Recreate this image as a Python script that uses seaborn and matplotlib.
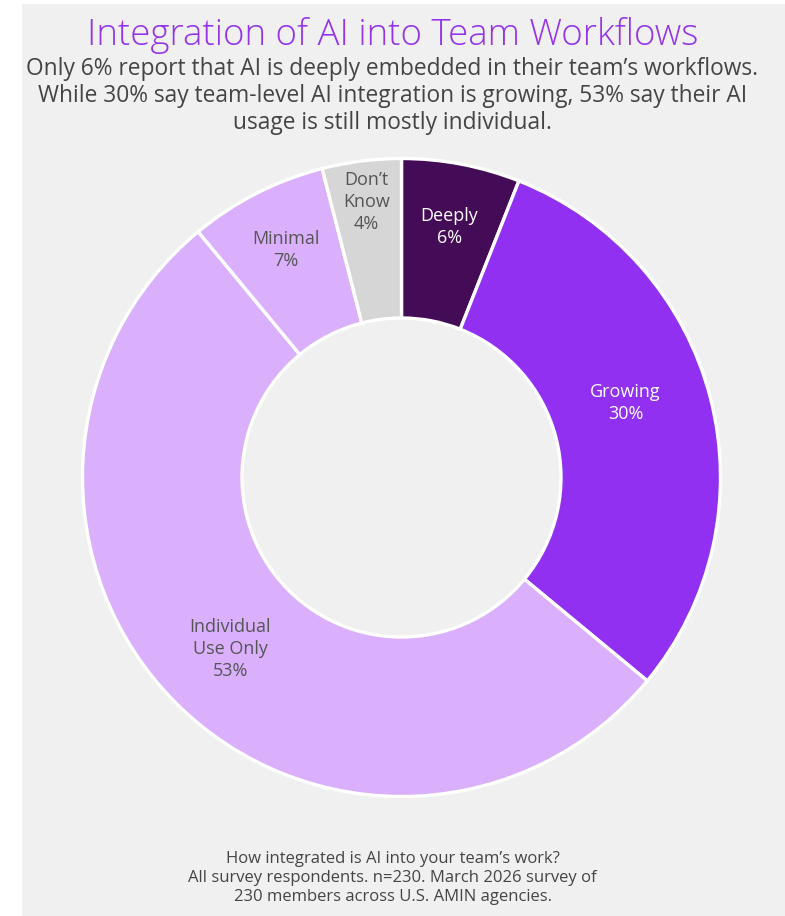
import matplotlib
matplotlib.use("Agg")
import matplotlib.pyplot as plt
import seaborn as sns
import numpy as np

# Survey responses, clockwise from 12 o'clock
categories = ["Deeply", "Growing", "Individual\nUse Only", "Minimal", "Don\u2019t\nKnow"]
shares = [6, 30, 53, 7, 4]
colors = ["#440c56", "#9130f0", "#dab0fd", "#dab0fd", "#d6d6d6"]
label_colors = ["#ffffff", "#ffffff", "#555555", "#555555", "#555555"]
label_radius = [0.80, 0.74, 0.76, 0.80, 0.87]
label_turn = [0.0, 4.0, 0.0, 0.0, 0.0]   # degrees, counter-clockwise nudge

title = "Integration of AI into Team Workflows"
subtitle = ("Only 6% report that AI is deeply embedded in their team\u2019s workflows.\n"
            "While 30% say team-level AI integration is growing, 53% say their AI\n"
            "usage is still mostly individual.")
footer = ("How integrated is AI into your team\u2019s work?\n"
          "All survey respondents. n=230. March 2026 survey of\n"
          "230 members across U.S. AMIN agencies.")

sns.set_theme(style="white")
plt.rcParams["font.family"] = ["Open Sans", "DejaVu Sans"]

W, H = 785, 916
fig = plt.figure(figsize=(W / 100, H / 100), dpi=100)
fig.patch.set_facecolor("white")

# light grey panel behind everything
panel = plt.Rectangle((22 / W, 0), 1 - 22 / W, 1 - 4 / H, transform=fig.transFigure,
                      facecolor="#f0f0f0", edgecolor="none", zorder=-10)
fig.patches.append(panel)

cx, cy, r = 401.5, 477.5, 319.0
ax = fig.add_axes([(cx - r) / W, (H - cy - r) / H, 2 * r / W, 2 * r / H])
ax.set_facecolor("none")
ax.set_zorder(5)

wedges, _ = ax.pie(shares, colors=colors, startangle=90, counterclock=False,
                   radius=1.0,
                   wedgeprops=dict(width=0.5, edgecolor="white", linewidth=2.4))
ax.set_xlim(-1.0, 1.0)
ax.set_ylim(-1.0, 1.0)
ax.set_aspect("equal")
ax.axis("off")

for w, cat, val, tc, lr, dt in zip(wedges, categories, shares, label_colors,
                                   label_radius, label_turn):
    ang = np.deg2rad((w.theta1 + w.theta2) / 2 + dt)
    ax.text(lr * np.cos(ang), lr * np.sin(ang), f"{cat}\n{val}%",
            ha="center", va="center", color=tc, fontsize=13, linespacing=1.3)

fig.text(0.5, 1 - 36 / H, title, ha="center", va="center",
         color="#9333ea", fontsize=26.4, fontweight="light")
fig.text(0.5, 1 - 96 / H, subtitle, ha="center", va="center",
         color="#444444", fontsize=16.4, linespacing=1.15)
fig.text(0.5, 1 - 878 / H, footer, ha="center", va="center",
         color="#444444", fontsize=12, linespacing=1.22)

fig.savefig("out.png", dpi=100)
